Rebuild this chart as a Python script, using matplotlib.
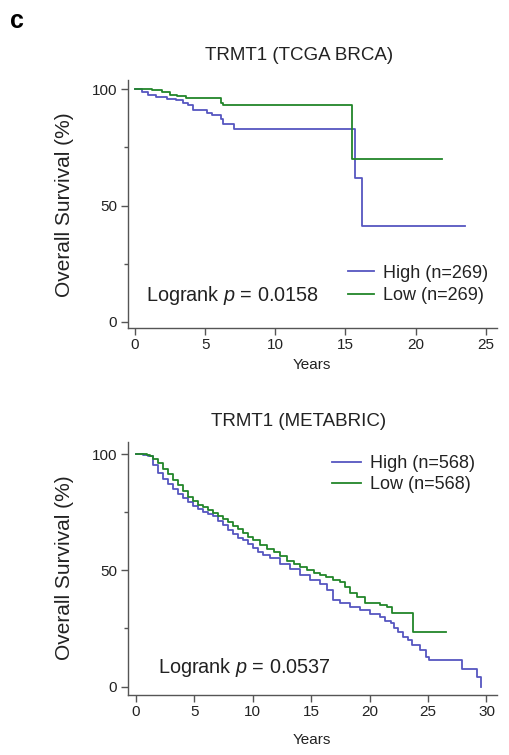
import matplotlib
matplotlib.use("Agg")
import matplotlib.pyplot as plt
from matplotlib.ticker import FixedLocator

plt.rcParams['font.family'] = ['Liberation Sans', 'DejaVu Sans']
plt.rcParams['mathtext.fontset'] = 'custom'
plt.rcParams['mathtext.rm'] = 'Liberation Sans'
plt.rcParams['mathtext.it'] = 'Liberation Sans:italic'

# ---------------- data ----------------
# TCGA BRCA
tcga_high_t = [0, 0.5, 0.9, 1.5, 2.3, 2.9, 3.4, 3.8, 4.1, 5.1, 5.5, 6.1, 6.3, 7.05, 15.7, 16.2, 23.5]
tcga_high_s = [100, 98.9, 97.7, 96.7, 96.0, 95.3, 94.3, 93.2, 91.0, 90.0, 88.8, 87.4, 85.2, 82.8, 62.0, 41.3, 41.3]
tcga_low_t = [0, 1.2, 1.9, 2.5, 3.0, 3.6, 6.1, 6.3, 15.5, 21.9]
tcga_low_s = [100, 99.6, 98.9, 97.7, 97.2, 96.3, 94.3, 93.2, 69.9, 69.9]

# METABRIC
meta_high_t = [0, 0.6, 1.0, 1.45, 1.9, 2.3, 2.75, 3.15, 3.6, 4.0, 4.45, 4.9, 5.3, 5.75, 6.15, 6.6,
               7.0, 7.45, 7.9, 8.3, 8.75, 9.15, 9.6, 10.0, 10.45, 10.9, 11.5, 12.3, 13.2, 14.05,
               14.9, 15.75, 16.35, 16.9, 17.5, 18.3, 19.2, 20.05, 20.9, 21.3, 21.8, 22.05, 22.4,
               22.85, 23.3, 23.6, 24.3, 24.8, 25.1, 27.9, 29.2, 29.5]
meta_high_s = [100, 99.7, 99.0, 95.5, 92.0, 89.5, 87.0, 85.0, 83.0, 81.0, 79.2, 77.6, 76.3, 75.2,
               74.3, 73.2, 71.4, 69.4, 67.3, 65.7, 64.0, 62.9, 61.4, 59.8, 57.8, 56.6, 55.2, 52.8,
               50.5, 48.0, 45.8, 44.2, 41.6, 37.3, 35.8, 34.4, 33.0, 31.2, 29.8, 28.4, 27.2, 25.1,
               23.6, 21.5, 20.1, 17.9, 15.8, 12.9, 11.5, 7.5, 4.0, 0.0]
meta_low_t = [0, 0.9, 1.2, 1.45, 1.9, 2.3, 2.75, 3.15, 3.6, 4.0, 4.45, 4.9, 5.3, 5.75, 6.15, 6.6,
              7.0, 7.45, 7.9, 8.3, 8.75, 9.15, 9.6, 10.0, 10.6, 11.2, 11.8, 12.3, 12.9, 13.5, 14.05,
              14.6, 15.2, 15.75, 16.3, 16.9, 17.5, 17.9, 18.3, 18.9, 19.6, 20.9, 21.5, 21.9,
              23.75, 26.5]
meta_low_s = [100, 99.6, 99.0, 98.0, 96.0, 93.5, 91.5, 89.0, 86.5, 84.0, 81.5, 79.8, 78.3, 77.2,
              75.9, 74.8, 73.3, 72.0, 70.6, 69.2, 67.8, 66.0, 64.5, 63.0, 60.9, 59.3, 58.0, 56.2,
              54.0, 52.7, 51.6, 50.1, 49.0, 48.0, 47.0, 45.8, 45.0, 43.0, 40.1, 38.6, 35.8, 35.1,
              34.1, 31.8, 23.6, 23.6]

titles = ["TRMT1 (TCGA BRCA)", "TRMT1 (METABRIC)"]
high_labels = ["High (n=269)", "High (n=568)"]
low_labels = ["Low (n=269)", "Low (n=568)"]
pvals = ["0.0158", "0.0537"]
xticks_list = [[0, 5, 10, 15, 20, 25], [0, 5, 10, 15, 20, 25, 30]]
yticks = [0, 50, 100]
yminor = [25, 75]

BLUE = '#5656c0'
GREEN = '#22862a'
AX = '#555555'
TXT = '#222222'

W, H = 510, 755
fig = plt.figure(figsize=(W / 100, H / 100), dpi=100)

def fx(px):
    return px / W

def fy(py):
    return 1 - py / H

panels = [
    dict(box=(128, 80, 497, 328), xlim=(-0.5, 25.8), ylim=(-2.7, 104),
         high=(tcga_high_t, tcga_high_s), low=(tcga_low_t, tcga_low_s),
         title_y=60, years_y=365, ylab_y=205,
         leg=(0.596, 0.255), hl=1.45, ls=0.3, lr=(0.049, 0.133)),
    dict(box=(128, 442, 497, 695), xlim=(-0.69, 30.9), ylim=(-3.6, 105.2),
         high=(meta_high_t, meta_high_s), low=(meta_low_t, meta_low_s),
         title_y=426, years_y=740, ylab_y=568,
         leg=(0.553, 0.949), hl=1.6, ls=0.22, lr=(0.081, 0.107)),
]

for i, p in enumerate(panels):
    l, t, r, b = p['box']
    ax = fig.add_axes([fx(l), fy(b), (r - l) / W, (b - t) / H])
    ax.step(p['high'][0], p['high'][1], where='post', color=BLUE, lw=1.3, label=high_labels[i])
    ax.step(p['low'][0], p['low'][1], where='post', color=GREEN, lw=1.3, label=low_labels[i])
    ax.set_xlim(*p['xlim'])
    ax.set_ylim(*p['ylim'])
    for s in ['top', 'right']:
        ax.spines[s].set_visible(False)
    for s in ['left', 'bottom']:
        ax.spines[s].set_color(AX)
        ax.spines[s].set_linewidth(1.0)
    ax.xaxis.set_major_locator(FixedLocator(xticks_list[i]))
    ax.yaxis.set_major_locator(FixedLocator(yticks))
    ax.yaxis.set_minor_locator(FixedLocator(yminor))
    ax.tick_params(axis='both', which='major', length=5, width=1.0, color=AX,
                   labelsize=11, labelcolor=TXT)
    ax.tick_params(axis='y', which='minor', length=3, width=1.0, color=AX)
    ax.tick_params(axis='y', which='major', pad=3)
    ax.tick_params(axis='x', which='major', pad=2.5)

    leg = ax.legend(loc='upper left', bbox_to_anchor=p['leg'], frameon=False,
                    fontsize=13, handlelength=p['hl'], handletextpad=0.5,
                    labelspacing=p['ls'], borderpad=0, borderaxespad=0)
    for txt in leg.get_texts():
        txt.set_color(TXT)
    ax.text(p['lr'][0], p['lr'][1], "Logrank $p$ = " + pvals[i], transform=ax.transAxes,
            fontsize=14.3, color=TXT, ha='left', va='center')

    fig.text(fx(299), fy(p['title_y']), titles[i], fontsize=13.5, color=TXT,
             ha='center', va='baseline')
    fig.text(fx(312), fy(p['years_y']), "Years", fontsize=11, color=TXT,
             ha='center', va='center')
    fig.text(fx(65), fy(p['ylab_y']), "Overall Survival (%)", fontsize=15, color=TXT,
             ha='center', va='center', rotation=90)

fig.text(fx(10), fy(28), "c", fontsize=18, fontweight='bold', color='black',
         ha='left', va='baseline')

fig.savefig("out.png", dpi=100)
